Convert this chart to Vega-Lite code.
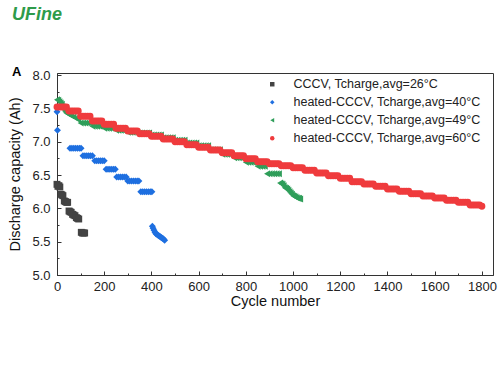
{
"$schema": "https://vega.github.io/schema/vega-lite/v6.json",
"width": 436, "height": 202,
"autosize": {"type": "none"},
"padding": {"left": 57, "top": 73, "right": 7, "bottom": 105},
"title": {"text": "UFine", "subtitle": "A", "anchor": "start", "frame": "group", "dx": -45, "offset": -10, "fontSize": 18, "color": "#2e9b4a", "font": "Liberation Sans", "fontWeight": "bold", "fontStyle": "italic", "subtitleFont": "Liberation Sans", "subtitleFontSize": 13, "subtitleFontWeight": "bold", "subtitleColor": "#000000", "subtitlePadding": 42},
"config": {"view": {"stroke": "#333333", "strokeWidth": 1}, "font": "Liberation Sans",
  "legend": {"orient": "none", "legendX": 209, "legendY": 5, "title": null, "labelFontSize": 12.5, "labelFont": "Liberation Sans", "labelColor": "#222222", "symbolSize": 20, "rowPadding": 5, "labelOffset": 15, "labelLimit": 0}},
"data": {"values": [
{"s":"c26","cycle":0,"cap":6.36},{"s":"c26","cycle":4,"cap":6.33},{"s":"c26","cycle":8,"cap":6.34},{"s":"c26","cycle":12,"cap":6.32},{"s":"c26","cycle":17,"cap":6.21},{"s":"c26","cycle":21,"cap":6.2},{"s":"c26","cycle":25,"cap":6.19},{"s":"c26","cycle":31,"cap":6.11},{"s":"c26","cycle":36,"cap":6.1},{"s":"c26","cycle":41,"cap":6.09},{"s":"c26","cycle":45,"cap":6.09},{"s":"c26","cycle":51,"cap":5.96},{"s":"c26","cycle":55,"cap":5.95},{"s":"c26","cycle":60,"cap":5.94},{"s":"c26","cycle":66,"cap":5.91},{"s":"c26","cycle":71,"cap":5.9},{"s":"c26","cycle":76,"cap":5.89},{"s":"c26","cycle":82,"cap":5.86},{"s":"c26","cycle":87,"cap":5.85},{"s":"c26","cycle":92,"cap":5.84},{"s":"c26","cycle":103,"cap":5.64},{"s":"c26","cycle":108,"cap":5.63},{"s":"c26","cycle":113,"cap":5.63},{"s":"c26","cycle":117,"cap":5.63},
{"s":"h40","cycle":0,"cap":7.45},{"s":"h40","cycle":2,"cap":7.17},
{"s":"h40","cycle":55,"cap":6.9},{"s":"h40","cycle":63,"cap":6.9},{"s":"h40","cycle":71,"cap":6.9},{"s":"h40","cycle":79,"cap":6.9},{"s":"h40","cycle":87,"cap":6.9},{"s":"h40","cycle":95,"cap":6.9},{"s":"h40","cycle":102,"cap":6.9},
{"s":"h40","cycle":110,"cap":6.79},{"s":"h40","cycle":118,"cap":6.79},{"s":"h40","cycle":126,"cap":6.79},{"s":"h40","cycle":134,"cap":6.79},{"s":"h40","cycle":142,"cap":6.79},{"s":"h40","cycle":150,"cap":6.79},
{"s":"h40","cycle":160,"cap":6.715},{"s":"h40","cycle":168,"cap":6.715},{"s":"h40","cycle":176,"cap":6.715},{"s":"h40","cycle":184,"cap":6.715},{"s":"h40","cycle":192,"cap":6.715},{"s":"h40","cycle":200,"cap":6.715},
{"s":"h40","cycle":208,"cap":6.585},{"s":"h40","cycle":216,"cap":6.585},{"s":"h40","cycle":224,"cap":6.585},{"s":"h40","cycle":232,"cap":6.585},{"s":"h40","cycle":240,"cap":6.585},{"s":"h40","cycle":247,"cap":6.585},
{"s":"h40","cycle":253,"cap":6.47},{"s":"h40","cycle":261,"cap":6.47},{"s":"h40","cycle":269,"cap":6.47},{"s":"h40","cycle":277,"cap":6.47},{"s":"h40","cycle":285,"cap":6.47},{"s":"h40","cycle":293,"cap":6.47},
{"s":"h40","cycle":300,"cap":6.41},{"s":"h40","cycle":308,"cap":6.41},{"s":"h40","cycle":316,"cap":6.41},{"s":"h40","cycle":324,"cap":6.41},{"s":"h40","cycle":332,"cap":6.41},{"s":"h40","cycle":340,"cap":6.41},{"s":"h40","cycle":347,"cap":6.41},
{"s":"h40","cycle":355,"cap":6.25},{"s":"h40","cycle":363,"cap":6.25},{"s":"h40","cycle":371,"cap":6.25},{"s":"h40","cycle":379,"cap":6.25},{"s":"h40","cycle":387,"cap":6.25},{"s":"h40","cycle":395,"cap":6.25},{"s":"h40","cycle":402,"cap":6.25},
{"s":"h40","cycle":404,"cap":5.73},{"s":"h40","cycle":407,"cap":5.7},{"s":"h40","cycle":411,"cap":5.67},{"s":"h40","cycle":415,"cap":5.64},{"s":"h40","cycle":419,"cap":5.62},{"s":"h40","cycle":423,"cap":5.61},{"s":"h40","cycle":427,"cap":5.6},{"s":"h40","cycle":431,"cap":5.59},{"s":"h40","cycle":435,"cap":5.58},{"s":"h40","cycle":439,"cap":5.57},{"s":"h40","cycle":443,"cap":5.56},{"s":"h40","cycle":447,"cap":5.55},{"s":"h40","cycle":451,"cap":5.54},{"s":"h40","cycle":456,"cap":5.52},
{"s":"h49","cycle":0,"cap":7.63},{"s":"h49","cycle":5,"cap":7.62},{"s":"h49","cycle":10,"cap":7.6},{"s":"h49","cycle":15,"cap":7.58},{"s":"h49","cycle":20,"cap":7.56},{"s":"h49","cycle":25,"cap":7.52},{"s":"h49","cycle":30,"cap":7.48},{"s":"h49","cycle":35,"cap":7.45},{"s":"h49","cycle":40,"cap":7.43},{"s":"h49","cycle":45,"cap":7.42},{"s":"h49","cycle":50,"cap":7.41},{"s":"h49","cycle":60,"cap":7.39},{"s":"h49","cycle":70,"cap":7.37},{"s":"h49","cycle":80,"cap":7.35},{"s":"h49","cycle":90,"cap":7.33},
{"s":"h49","cycle":100,"cap":7.28},{"s":"h49","cycle":110,"cap":7.28},{"s":"h49","cycle":120,"cap":7.28},{"s":"h49","cycle":130,"cap":7.28},{"s":"h49","cycle":140,"cap":7.28},
{"s":"h49","cycle":150,"cap":7.23},{"s":"h49","cycle":160,"cap":7.23},{"s":"h49","cycle":170,"cap":7.23},{"s":"h49","cycle":180,"cap":7.23},{"s":"h49","cycle":190,"cap":7.23},
{"s":"h49","cycle":200,"cap":7.2},{"s":"h49","cycle":210,"cap":7.2},{"s":"h49","cycle":220,"cap":7.2},{"s":"h49","cycle":230,"cap":7.2},{"s":"h49","cycle":240,"cap":7.2},
{"s":"h49","cycle":250,"cap":7.17},{"s":"h49","cycle":260,"cap":7.17},{"s":"h49","cycle":270,"cap":7.17},{"s":"h49","cycle":280,"cap":7.17},{"s":"h49","cycle":290,"cap":7.17},
{"s":"h49","cycle":300,"cap":7.14},{"s":"h49","cycle":310,"cap":7.14},{"s":"h49","cycle":320,"cap":7.14},{"s":"h49","cycle":330,"cap":7.14},{"s":"h49","cycle":340,"cap":7.14},
{"s":"h49","cycle":350,"cap":7.13},{"s":"h49","cycle":360,"cap":7.13},{"s":"h49","cycle":370,"cap":7.13},{"s":"h49","cycle":380,"cap":7.13},{"s":"h49","cycle":390,"cap":7.13},
{"s":"h49","cycle":400,"cap":7.1},{"s":"h49","cycle":410,"cap":7.1},{"s":"h49","cycle":420,"cap":7.1},{"s":"h49","cycle":430,"cap":7.1},{"s":"h49","cycle":440,"cap":7.1},
{"s":"h49","cycle":450,"cap":7.06},{"s":"h49","cycle":460,"cap":7.06},{"s":"h49","cycle":470,"cap":7.06},{"s":"h49","cycle":480,"cap":7.06},{"s":"h49","cycle":490,"cap":7.06},
{"s":"h49","cycle":500,"cap":7.02},{"s":"h49","cycle":510,"cap":7.02},{"s":"h49","cycle":520,"cap":7.02},{"s":"h49","cycle":530,"cap":7.02},{"s":"h49","cycle":540,"cap":7.02},
{"s":"h49","cycle":550,"cap":6.98},{"s":"h49","cycle":560,"cap":6.98},{"s":"h49","cycle":570,"cap":6.98},{"s":"h49","cycle":580,"cap":6.98},{"s":"h49","cycle":590,"cap":6.98},
{"s":"h49","cycle":600,"cap":6.94},{"s":"h49","cycle":610,"cap":6.94},{"s":"h49","cycle":620,"cap":6.94},{"s":"h49","cycle":630,"cap":6.94},{"s":"h49","cycle":640,"cap":6.94},
{"s":"h49","cycle":650,"cap":6.88},{"s":"h49","cycle":660,"cap":6.88},{"s":"h49","cycle":670,"cap":6.88},{"s":"h49","cycle":680,"cap":6.88},{"s":"h49","cycle":690,"cap":6.88},
{"s":"h49","cycle":700,"cap":6.81},{"s":"h49","cycle":710,"cap":6.81},{"s":"h49","cycle":720,"cap":6.81},{"s":"h49","cycle":730,"cap":6.81},{"s":"h49","cycle":740,"cap":6.81},
{"s":"h49","cycle":750,"cap":6.76},{"s":"h49","cycle":760,"cap":6.76},{"s":"h49","cycle":770,"cap":6.76},{"s":"h49","cycle":780,"cap":6.76},{"s":"h49","cycle":790,"cap":6.76},
{"s":"h49","cycle":800,"cap":6.69},{"s":"h49","cycle":810,"cap":6.69},{"s":"h49","cycle":820,"cap":6.69},{"s":"h49","cycle":830,"cap":6.69},{"s":"h49","cycle":840,"cap":6.69},
{"s":"h49","cycle":850,"cap":6.63},{"s":"h49","cycle":860,"cap":6.63},{"s":"h49","cycle":870,"cap":6.63},{"s":"h49","cycle":880,"cap":6.63},
{"s":"h49","cycle":890,"cap":6.52},{"s":"h49","cycle":900,"cap":6.52},{"s":"h49","cycle":910,"cap":6.52},{"s":"h49","cycle":920,"cap":6.52},{"s":"h49","cycle":930,"cap":6.52},{"s":"h49","cycle":940,"cap":6.52},
{"s":"h49","cycle":945,"cap":6.38},{"s":"h49","cycle":950,"cap":6.37},{"s":"h49","cycle":955,"cap":6.36},{"s":"h49","cycle":960,"cap":6.34},{"s":"h49","cycle":965,"cap":6.31},{"s":"h49","cycle":970,"cap":6.3},{"s":"h49","cycle":975,"cap":6.29},{"s":"h49","cycle":980,"cap":6.27},{"s":"h49","cycle":985,"cap":6.25},{"s":"h49","cycle":990,"cap":6.23},{"s":"h49","cycle":995,"cap":6.21},{"s":"h49","cycle":1000,"cap":6.19},{"s":"h49","cycle":1005,"cap":6.18},{"s":"h49","cycle":1010,"cap":6.17},{"s":"h49","cycle":1015,"cap":6.16},{"s":"h49","cycle":1020,"cap":6.15},{"s":"h49","cycle":1025,"cap":6.15},{"s":"h49","cycle":1030,"cap":6.14},
{"s":"h60","cycle":0,"cap":7.52},{"s":"h60","cycle":10,"cap":7.52},{"s":"h60","cycle":20,"cap":7.52},{"s":"h60","cycle":30,"cap":7.52},{"s":"h60","cycle":40,"cap":7.52},
{"s":"h60","cycle":50,"cap":7.46},{"s":"h60","cycle":60,"cap":7.46},{"s":"h60","cycle":70,"cap":7.46},{"s":"h60","cycle":80,"cap":7.46},{"s":"h60","cycle":90,"cap":7.46},
{"s":"h60","cycle":100,"cap":7.38},{"s":"h60","cycle":110,"cap":7.38},{"s":"h60","cycle":120,"cap":7.38},{"s":"h60","cycle":130,"cap":7.38},{"s":"h60","cycle":140,"cap":7.38},
{"s":"h60","cycle":150,"cap":7.31},{"s":"h60","cycle":160,"cap":7.31},{"s":"h60","cycle":170,"cap":7.31},{"s":"h60","cycle":180,"cap":7.31},{"s":"h60","cycle":190,"cap":7.31},
{"s":"h60","cycle":200,"cap":7.26},{"s":"h60","cycle":210,"cap":7.26},{"s":"h60","cycle":220,"cap":7.26},{"s":"h60","cycle":230,"cap":7.26},{"s":"h60","cycle":240,"cap":7.26},
{"s":"h60","cycle":250,"cap":7.2},{"s":"h60","cycle":260,"cap":7.2},{"s":"h60","cycle":270,"cap":7.2},{"s":"h60","cycle":280,"cap":7.2},{"s":"h60","cycle":290,"cap":7.2},
{"s":"h60","cycle":300,"cap":7.16},{"s":"h60","cycle":310,"cap":7.16},{"s":"h60","cycle":320,"cap":7.16},{"s":"h60","cycle":330,"cap":7.16},{"s":"h60","cycle":340,"cap":7.16},
{"s":"h60","cycle":350,"cap":7.12},{"s":"h60","cycle":360,"cap":7.12},{"s":"h60","cycle":370,"cap":7.12},{"s":"h60","cycle":380,"cap":7.12},{"s":"h60","cycle":390,"cap":7.12},
{"s":"h60","cycle":400,"cap":7.08},{"s":"h60","cycle":410,"cap":7.08},{"s":"h60","cycle":420,"cap":7.08},{"s":"h60","cycle":430,"cap":7.08},{"s":"h60","cycle":440,"cap":7.08},
{"s":"h60","cycle":450,"cap":7.04},{"s":"h60","cycle":460,"cap":7.04},{"s":"h60","cycle":470,"cap":7.04},{"s":"h60","cycle":480,"cap":7.04},{"s":"h60","cycle":490,"cap":7.04},
{"s":"h60","cycle":500,"cap":7.0},{"s":"h60","cycle":510,"cap":7.0},{"s":"h60","cycle":520,"cap":7.0},{"s":"h60","cycle":530,"cap":7.0},{"s":"h60","cycle":540,"cap":7.0},
{"s":"h60","cycle":550,"cap":6.955},{"s":"h60","cycle":560,"cap":6.955},{"s":"h60","cycle":570,"cap":6.955},{"s":"h60","cycle":580,"cap":6.955},{"s":"h60","cycle":590,"cap":6.955},
{"s":"h60","cycle":600,"cap":6.915},{"s":"h60","cycle":610,"cap":6.915},{"s":"h60","cycle":620,"cap":6.915},{"s":"h60","cycle":630,"cap":6.915},{"s":"h60","cycle":640,"cap":6.915},
{"s":"h60","cycle":650,"cap":6.875},{"s":"h60","cycle":660,"cap":6.875},{"s":"h60","cycle":670,"cap":6.875},{"s":"h60","cycle":680,"cap":6.875},{"s":"h60","cycle":690,"cap":6.875},
{"s":"h60","cycle":700,"cap":6.835},{"s":"h60","cycle":710,"cap":6.835},{"s":"h60","cycle":720,"cap":6.835},{"s":"h60","cycle":730,"cap":6.835},{"s":"h60","cycle":740,"cap":6.835},
{"s":"h60","cycle":750,"cap":6.79},{"s":"h60","cycle":760,"cap":6.79},{"s":"h60","cycle":770,"cap":6.79},{"s":"h60","cycle":780,"cap":6.79},{"s":"h60","cycle":790,"cap":6.79},
{"s":"h60","cycle":800,"cap":6.745},{"s":"h60","cycle":810,"cap":6.745},{"s":"h60","cycle":820,"cap":6.745},{"s":"h60","cycle":830,"cap":6.745},{"s":"h60","cycle":840,"cap":6.745},
{"s":"h60","cycle":850,"cap":6.7},{"s":"h60","cycle":860,"cap":6.7},{"s":"h60","cycle":870,"cap":6.7},{"s":"h60","cycle":880,"cap":6.7},{"s":"h60","cycle":890,"cap":6.7},
{"s":"h60","cycle":900,"cap":6.67},{"s":"h60","cycle":910,"cap":6.67},{"s":"h60","cycle":920,"cap":6.67},{"s":"h60","cycle":930,"cap":6.67},{"s":"h60","cycle":940,"cap":6.67},
{"s":"h60","cycle":950,"cap":6.64},{"s":"h60","cycle":960,"cap":6.64},{"s":"h60","cycle":970,"cap":6.64},{"s":"h60","cycle":980,"cap":6.64},{"s":"h60","cycle":990,"cap":6.64},
{"s":"h60","cycle":1000,"cap":6.61},{"s":"h60","cycle":1010,"cap":6.61},{"s":"h60","cycle":1020,"cap":6.61},{"s":"h60","cycle":1030,"cap":6.61},{"s":"h60","cycle":1040,"cap":6.61},
{"s":"h60","cycle":1050,"cap":6.57},{"s":"h60","cycle":1060,"cap":6.57},{"s":"h60","cycle":1070,"cap":6.57},{"s":"h60","cycle":1080,"cap":6.57},{"s":"h60","cycle":1090,"cap":6.57},
{"s":"h60","cycle":1100,"cap":6.53},{"s":"h60","cycle":1110,"cap":6.53},{"s":"h60","cycle":1120,"cap":6.53},{"s":"h60","cycle":1130,"cap":6.53},{"s":"h60","cycle":1140,"cap":6.53},
{"s":"h60","cycle":1150,"cap":6.49},{"s":"h60","cycle":1160,"cap":6.49},{"s":"h60","cycle":1170,"cap":6.49},{"s":"h60","cycle":1180,"cap":6.49},{"s":"h60","cycle":1190,"cap":6.49},
{"s":"h60","cycle":1200,"cap":6.45},{"s":"h60","cycle":1210,"cap":6.45},{"s":"h60","cycle":1220,"cap":6.45},{"s":"h60","cycle":1230,"cap":6.45},{"s":"h60","cycle":1240,"cap":6.45},
{"s":"h60","cycle":1250,"cap":6.4},{"s":"h60","cycle":1260,"cap":6.4},{"s":"h60","cycle":1270,"cap":6.4},{"s":"h60","cycle":1280,"cap":6.4},{"s":"h60","cycle":1290,"cap":6.4},
{"s":"h60","cycle":1300,"cap":6.365},{"s":"h60","cycle":1310,"cap":6.365},{"s":"h60","cycle":1320,"cap":6.365},{"s":"h60","cycle":1330,"cap":6.365},{"s":"h60","cycle":1340,"cap":6.365},
{"s":"h60","cycle":1350,"cap":6.33},{"s":"h60","cycle":1360,"cap":6.33},{"s":"h60","cycle":1370,"cap":6.33},{"s":"h60","cycle":1380,"cap":6.33},{"s":"h60","cycle":1390,"cap":6.33},
{"s":"h60","cycle":1400,"cap":6.29},{"s":"h60","cycle":1410,"cap":6.29},{"s":"h60","cycle":1420,"cap":6.29},{"s":"h60","cycle":1430,"cap":6.29},{"s":"h60","cycle":1440,"cap":6.29},
{"s":"h60","cycle":1450,"cap":6.255},{"s":"h60","cycle":1460,"cap":6.255},{"s":"h60","cycle":1470,"cap":6.255},{"s":"h60","cycle":1480,"cap":6.255},{"s":"h60","cycle":1490,"cap":6.255},
{"s":"h60","cycle":1500,"cap":6.22},{"s":"h60","cycle":1510,"cap":6.22},{"s":"h60","cycle":1520,"cap":6.22},{"s":"h60","cycle":1530,"cap":6.22},{"s":"h60","cycle":1540,"cap":6.22},
{"s":"h60","cycle":1550,"cap":6.185},{"s":"h60","cycle":1560,"cap":6.185},{"s":"h60","cycle":1570,"cap":6.185},{"s":"h60","cycle":1580,"cap":6.185},{"s":"h60","cycle":1590,"cap":6.185},
{"s":"h60","cycle":1600,"cap":6.155},{"s":"h60","cycle":1610,"cap":6.155},{"s":"h60","cycle":1620,"cap":6.155},{"s":"h60","cycle":1630,"cap":6.155},{"s":"h60","cycle":1640,"cap":6.155},
{"s":"h60","cycle":1650,"cap":6.12},{"s":"h60","cycle":1660,"cap":6.12},{"s":"h60","cycle":1670,"cap":6.12},{"s":"h60","cycle":1680,"cap":6.12},{"s":"h60","cycle":1690,"cap":6.12},
{"s":"h60","cycle":1700,"cap":6.09},{"s":"h60","cycle":1710,"cap":6.09},{"s":"h60","cycle":1720,"cap":6.09},{"s":"h60","cycle":1730,"cap":6.09},{"s":"h60","cycle":1740,"cap":6.09},
{"s":"h60","cycle":1750,"cap":6.05},{"s":"h60","cycle":1760,"cap":6.05},{"s":"h60","cycle":1770,"cap":6.05},{"s":"h60","cycle":1780,"cap":6.05},{"s":"h60","cycle":1790,"cap":6.05},{"s":"h60","cycle":1800,"cap":6.03}
]},
"layer": [
 {"mark": {"type": "point", "filled": true, "opacity": 1, "size": 48},
  "encoding": {
   "x": {"field": "cycle", "type": "quantitative", "scale": {"domain": [0, 1847], "nice": false, "zero": false},
     "axis": {"values": [0,200,400,600,800,1000,1200,1400,1600,1800], "format": "d", "title": "Cycle number", "titleFontSize": 14.5, "titleFontWeight": "normal", "titleColor": "#111111", "titlePadding": 1, "labelFontSize": 13, "labelColor": "#222222", "labelPadding": 9, "tickSize": -4, "tickColor": "#333333", "domainColor": "#333333", "grid": false, "labelFlush": false}},
   "y": {"field": "cap", "type": "quantitative", "scale": {"domain": [5, 8.03], "nice": false, "zero": false},
     "axis": {"values": [5,5.5,6,6.5,7,7.5,8], "format": ".1f", "title": "Discharge capacity (Ah)", "titleFontSize": 14.5, "titleFontWeight": "normal", "titleColor": "#111111", "titlePadding": 9, "labelFontSize": 13, "labelColor": "#222222", "labelPadding": 11, "tickSize": -4, "tickColor": "#333333", "domainColor": "#333333", "grid": false, "labelFlush": false}},
   "color": {"field": "s", "type": "nominal", "scale": {"domain": ["c26","h40","h49","h60"], "range": ["#434343","#1e6fe0","#2f9e5a","#ef3b3d"]},
     "legend": {"symbolSize": 20, "labelExpr": "datum.label == 'c26' ? 'CCCV, Tcharge,avg=26°C' : datum.label == 'h40' ? 'heated-CCCV, Tcharge,avg=40°C' : datum.label == 'h49' ? 'heated-CCCV, Tcharge,avg=49°C' : 'heated-CCCV, Tcharge,avg=60°C'"}},
   "shape": {"field": "s", "type": "nominal", "scale": {"domain": ["c26","h40","h49","h60"], "range": ["square","diamond","triangle-left","circle"]},
     "legend": {"symbolSize": 20, "labelExpr": "datum.label == 'c26' ? 'CCCV, Tcharge,avg=26°C' : datum.label == 'h40' ? 'heated-CCCV, Tcharge,avg=40°C' : datum.label == 'h49' ? 'heated-CCCV, Tcharge,avg=49°C' : 'heated-CCCV, Tcharge,avg=60°C'"}}
  }},
 {"mark": {"type": "point", "opacity": 0},
  "encoding": {
   "x": {"field": "cycle", "type": "quantitative", "axis": {"orient": "bottom", "values": [100,300,500,700,900,1100,1300,1500,1700], "labels": false, "domain": false, "title": null, "tickSize": -2, "tickColor": "#333333", "grid": false}},
   "y": {"field": "cap", "type": "quantitative", "axis": {"orient": "left", "values": [5.25,5.75,6.25,6.75,7.25,7.75], "labels": false, "domain": false, "title": null, "tickSize": -2, "tickColor": "#333333", "grid": false}}
  }}
],
"resolve": {"axis": {"x": "independent", "y": "independent"}}
}
